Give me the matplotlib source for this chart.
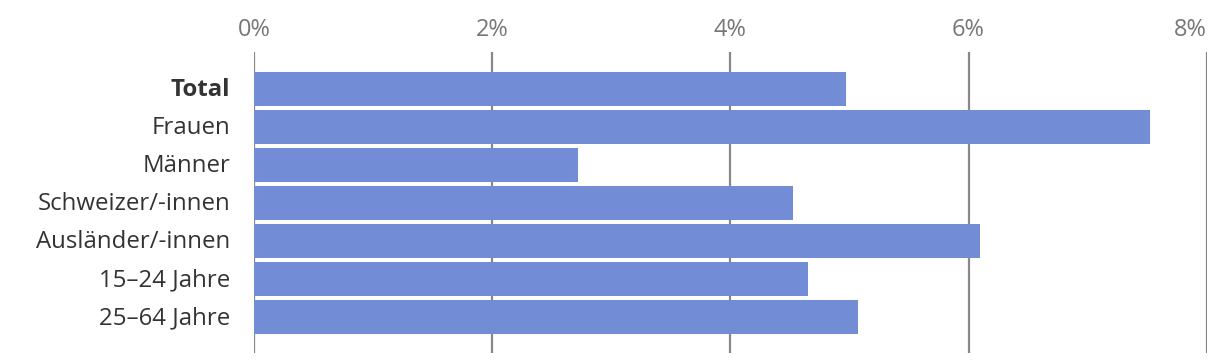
import matplotlib
matplotlib.use("Agg")
import matplotlib.pyplot as plt
from matplotlib.transforms import ScaledTranslation

categories = ["Total", "Frauen", "Männer", "Schweizer/-innen", "Ausländer/-innen", "15–24 Jahre", "25–64 Jahre"]
values = [4.97, 7.52, 2.72, 4.53, 6.10, 4.65, 5.07]
xticks = [0, 2, 4, 6, 8]
xticklabels = ["0%", "2%", "4%", "6%", "8%"]

plt.rcParams['font.family'] = ['Open Sans', 'DejaVu Sans']

fig = plt.figure(figsize=(12.2, 3.64), dpi=100)
ax = fig.add_axes([254/1220, 1-353/364, (1206.7-254)/1220, (353-52)/364])

y = list(range(len(categories)))
ax.barh(y, values, height=0.895, color="#728cd6", zorder=2)

ax.set_xlim(0, 8)
ax.set_ylim(6.95, -0.97)
ax.set_xticks(xticks)
ax.set_xticklabels(xticklabels)
ax.xaxis.tick_top()
ax.tick_params(axis='x', length=0, pad=7, labelsize=17, labelcolor="#777777")
ax.tick_params(axis='y', length=0, pad=17, labelsize=17.3, labelcolor="#333333")
ax.set_yticks(y)
ax.set_yticklabels(categories)
shift = ScaledTranslation(0, 1.5/100, fig.dpi_scale_trans)
for lbl in ax.get_yticklabels():
    lbl.set_transform(lbl.get_transform() + shift)
    if lbl.get_text() == "Total":
        lbl.set_fontweight("bold")
xl = ax.get_xticklabels()
xl[-1].set_horizontalalignment("right")
xl[-1].set_x(8)

for s in ax.spines.values():
    s.set_visible(False)
ax.grid(axis='x', color="#888888", linewidth=1.6, zorder=1)
ax.set_axisbelow(True)

fig.savefig("out.png", dpi=100, facecolor="white")
